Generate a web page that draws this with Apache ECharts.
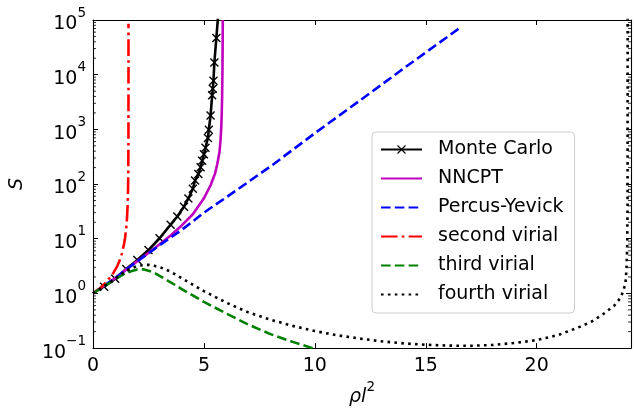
<!DOCTYPE html>
<html>
<head>
<meta charset="utf-8">
<script src="https://cdn.jsdelivr.net/npm/echarts@6/dist/echarts.min.js"></script>
<style>html,body{margin:0;padding:0;background:#fff;}#c{width:634px;height:412px;}</style>
</head>
<body>
<div id="c"></div>
<script>
// ---- data ----
const seriesNames = ['Monte Carlo', 'NNCPT', 'Percus-Yevick', 'second virial', 'third virial', 'fourth virial'];
const xTicks = [0, 5, 10, 15, 20];
const yTicks = [0.1, 1, 10, 100, 1000, 10000, 100000];

const mcX = [0.5, 1.0, 1.5, 2.0, 2.5, 3.0, 3.5, 3.8, 4.1, 4.3, 4.5, 4.6, 4.75, 4.85, 4.92, 5.0, 5.07, 5.18, 5.22, 5.3, 5.37, 5.40, 5.43, 5.47, 5.56, 5.64];
const mcY = [1.32, 1.86, 2.8, 4.1, 6.2, 10.2, 18.1, 25.5, 38.6, 54.5, 82, 116, 153, 202, 266, 350, 461, 698, 984, 1790, 4190, 5520, 7780, 16700, 46900, 120000];

const nnX = [0, 0.5, 1, 1.5, 2, 2.5, 3, 3.5, 4, 4.5, 5, 5.3, 5.5, 5.6, 5.7, 5.75, 5.78, 5.8, 5.82, 5.835, 5.845, 5.85];
const nnY = [1, 1.38, 1.9, 2.75, 3.9, 5.5, 7.9, 11.5, 17.5, 28, 55, 95, 155, 230, 380, 650, 1050, 1800, 4000, 12000, 40000, 100000];

const pyX = [0, 0.5, 1, 1.5, 2, 2.5, 3, 4, 5, 6, 8, 10, 12, 14, 16.5];
const pyY = [1, 1.38, 1.9, 2.75, 3.9, 5.4, 7.6, 14.5, 30, 57, 210, 850, 3300, 13000, 70000];

const v2X = [0, 0.3, 0.6, 0.9, 1.1, 1.2, 1.3, 1.4, 1.45, 1.5, 1.53, 1.56, 1.58, 1.59, 1.597, 1.5995, 1.6];
const v2Y = [1, 1.23, 1.6, 2.3, 3.2, 4, 5.3, 8, 10.7, 16, 23, 40, 80, 160, 600, 6000, 85000];

const v3X = [0, 0.5, 1, 1.5, 2, 2.3, 2.7, 3, 3.5, 4, 5, 6, 7, 8, 9, 10];
const v3Y = [1, 1.35, 1.8, 2.4, 2.75, 2.75, 2.45, 2.1, 1.6, 1.2, 0.7, 0.43, 0.27, 0.18, 0.13, 0.097];

const v4X = [0, 0.5, 1, 1.5, 2, 2.5, 3, 3.5, 4, 5, 6, 7, 8, 9, 10, 11, 12, 13, 14, 15, 16, 17, 18, 19, 20, 21, 22, 22.5, 23, 23.5, 23.8, 24, 24.05, 24.08, 24.095, 24.1];
const v4Y = [1, 1.35, 1.85, 2.6, 3.2, 3.35, 3.05, 2.5, 1.9, 1.1, 0.68, 0.45, 0.33, 0.255, 0.205, 0.172, 0.15, 0.133, 0.122, 0.115, 0.111, 0.11, 0.114, 0.124, 0.14, 0.175, 0.25, 0.31, 0.42, 0.6, 0.85, 1.5, 3, 8, 40, 120000];

// ---- helpers ----
const zip = (xs, ys) => xs.map((x, i) => [x, ys[i]]);
const XMIN = 0, XMAX = 24.25, YMIN = 0.1, YMAX = 100000;
const FONT = 'DejaVu Sans';
const LW = 2.6;

// minor log tick positions (2..9 x 10^k)
const minorTicks = [];
for (let k = -1; k < 5; k++) for (let m = 2; m <= 9; m++) minorTicks.push([XMIN, m * Math.pow(10, k)]);

function supLabel(v) {
  const e = Math.round(Math.log10(v));
  const s = e < 0 ? '\u2212' + (-e) : String(e);
  return '{b|10}{s|' + s + '}';
}

const legendData = seriesNames.map((n, i) => i === 0
  ? {name: n, itemStyle: {color: '#000', borderColor: '#000', borderWidth: 1.1}}
  : {name: n, itemStyle: {opacity: 0}});

const chart = echarts.init(document.getElementById('c'), null, {renderer: 'canvas'});
const axisLineStyle = {color: '#000', width: 1.1};
const option = {
  animation: false,
  backgroundColor: '#fff',
  grid: {left: 91, right: 2, top: 20, bottom: 58, containLabel: false},
  legend: {
    orient: 'vertical', left: 372, top: 132,
    padding: [8, 11, 9, 8],
    itemWidth: 41, itemHeight: 10, itemGap: 10,
    backgroundColor: 'rgba(255,255,255,0.8)',
    borderColor: '#cccccc', borderWidth: 1, borderRadius: 4,
    textStyle: {fontFamily: FONT, fontSize: 19, color: '#000', lineHeight: 19, padding: [0, 0, 0, 11]},
    data: legendData
  },
  xAxis: [{
    type: 'value', min: XMIN, max: XMAX, interval: 5,
    name: '{i|\u03c1l}{s|2}', nameLocation: 'middle', nameGap: 27,
    nameTextStyle: {rich: {
      i: {fontFamily: FONT, fontSize: 19, fontStyle: 'italic', color: '#000', verticalAlign: 'bottom', padding: [8, 0, 0, 0]},
      s: {fontFamily: FONT, fontSize: 13.5, color: '#000', verticalAlign: 'top'}
    }},
    axisLine: {show: true, onZero: false, lineStyle: axisLineStyle},
    axisTick: {show: true, inside: true, length: 5, lineStyle: {color: '#000', width: 1}},
    axisLabel: {color: '#000', fontFamily: FONT, fontSize: 19, margin: 8,
      formatter: v => (xTicks.indexOf(v) >= 0 ? String(v) : '')},
    splitLine: {show: false}
  }, {
    type: 'value', min: XMIN, max: XMAX, interval: 5, position: 'top',
    axisLine: {show: true, onZero: false, lineStyle: axisLineStyle},
    axisTick: {show: true, inside: true, length: 5, lineStyle: {color: '#000', width: 1}},
    axisLabel: {show: false}, splitLine: {show: false}
  }],
  yAxis: [{
    type: 'log', logBase: 10, min: YMIN, max: YMAX, splitNumber: 6,
    name: 'S', nameLocation: 'middle', nameGap: 66, nameRotate: 90,
    nameTextStyle: {fontFamily: FONT, fontSize: 19, fontStyle: 'italic', color: '#000'},
    axisLine: {show: true, onZero: false, lineStyle: axisLineStyle},
    axisTick: {show: true, inside: true, length: 5, lineStyle: {color: '#000', width: 1}},
    axisLabel: {color: '#000', margin: 7, formatter: v => (yTicks.some(t => Math.abs(t - v) / t < 1e-6) ? supLabel(v) : ''),
      rich: {
        b: {fontFamily: FONT, fontSize: 19, color: '#000', verticalAlign: 'bottom', padding: [9, 0, 0, 0]},
        s: {fontFamily: FONT, fontSize: 13.5, color: '#000', verticalAlign: 'top'}
      }},
    splitLine: {show: false}
  }, {
    type: 'log', logBase: 10, min: YMIN, max: YMAX, splitNumber: 6, position: 'right',
    axisLine: {show: true, onZero: false, lineStyle: axisLineStyle},
    axisTick: {show: true, inside: true, length: 5, lineStyle: {color: '#000', width: 1}},
    axisLabel: {show: false}, splitLine: {show: false}
  }],
  series: [
    {
      name: 'Monte Carlo', type: 'line', data: zip(mcX, mcY), clip: true,
      symbol: 'path://M0,0L10,10M10,0L0,10', symbolSize: 8, showSymbol: true,
      itemStyle: {color: '#000', borderColor: '#000', borderWidth: 1.4},
      lineStyle: {color: '#000', width: LW}, z: 3
    },
    {
      name: 'NNCPT', type: 'line', data: zip(nnX, nnY), clip: true, showSymbol: false, symbol: 'none',
      itemStyle: {color: '#bf00bf'}, lineStyle: {color: '#bf00bf', width: LW}, z: 4
    },
    {
      name: 'Percus-Yevick', type: 'line', data: zip(pyX, pyY), clip: true, showSymbol: false, symbol: 'none',
      itemStyle: {color: '#0000ff'}, lineStyle: {color: '#0000ff', width: LW, type: [9.6, 4.2]}, z: 5
    },
    {
      name: 'second virial', type: 'line', data: zip(v2X, v2Y), clip: true, showSymbol: false, symbol: 'none',
      itemStyle: {color: '#ff0000'}, lineStyle: {color: '#ff0000', width: LW, type: [16.6, 4.2, 2.6, 4.2]}, z: 6
    },
    {
      name: 'third virial', type: 'line', data: zip(v3X, v3Y), clip: true, showSymbol: false, symbol: 'none',
      itemStyle: {color: '#008000'}, lineStyle: {color: '#008000', width: LW, type: [9.6, 4.2]}, z: 7
    },
    {
      name: 'fourth virial', type: 'line', data: zip(v4X, v4Y), clip: true, showSymbol: false, symbol: 'none',
      itemStyle: {color: '#000'}, lineStyle: {color: '#000', width: LW, type: [2.6, 4.3]}, z: 8
    },
    {
      name: 'minorTicks', type: 'custom', data: minorTicks, silent: true, clip: false, z: 10,
      renderItem: function (params, api) {
        const v = api.value(1);
        const l = api.coord([XMIN, v]);
        const r = api.coord([XMAX, v]);
        const st = {stroke: '#000', lineWidth: 0.8};
        return {type: 'group', children: [
          {type: 'line', shape: {x1: l[0], y1: l[1], x2: l[0] + 3, y2: l[1]}, style: st},
          {type: 'line', shape: {x1: r[0] - 3, y1: r[1], x2: r[0], y2: r[1]}, style: st}
        ]};
      }
    }
  ]
};
chart.setOption(option);
</script>
</body>
</html>
